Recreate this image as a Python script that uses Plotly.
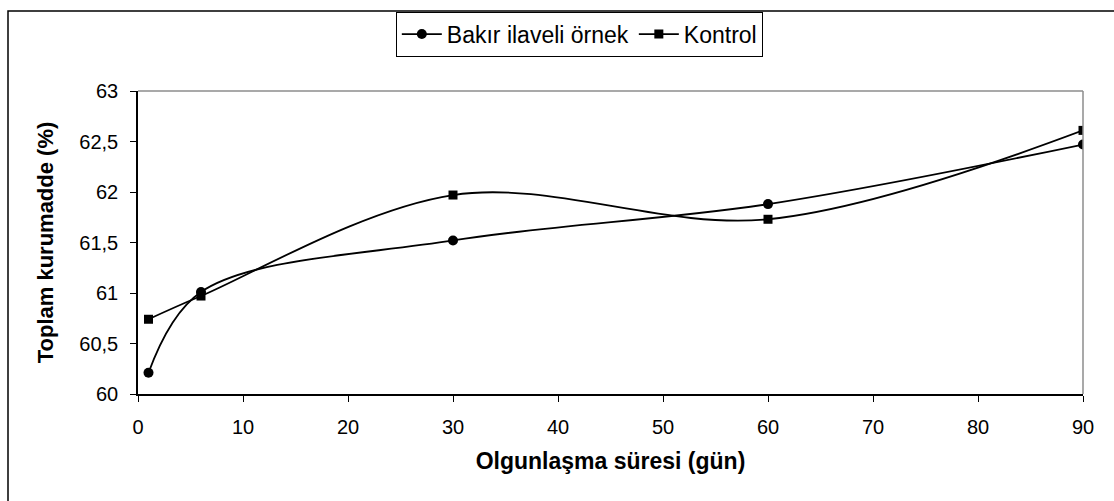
import plotly.graph_objects as go

days = [1, 6, 30, 60, 90]
bakir = [60.21, 61.01, 61.52, 61.88, 62.47]
kontrol = [60.74, 60.97, 61.97, 61.73, 62.61]

x_ticks = [0, 10, 20, 30, 40, 50, 60, 70, 80, 90]
y_ticks = [60, 60.5, 61, 61.5, 62, 62.5, 63]
y_tick_labels = ["60", "60,5", "61", "61,5", "62", "62,5", "63"]

FONT = "Liberation Sans, Arial, sans-serif"

fig = go.Figure()
fig.add_trace(go.Scatter(
    x=days, y=bakir, name="Bakır ilaveli örnek", mode="lines+markers",
    line=dict(color="black", width=1.8, shape="spline", smoothing=1.0),
    marker=dict(symbol="circle", size=10, color="black"),
))
fig.add_trace(go.Scatter(
    x=days, y=kontrol, name="Kontrol", mode="lines+markers",
    line=dict(color="black", width=1.8, shape="spline", smoothing=1.0),
    marker=dict(symbol="square", size=9, color="black"),
))

fig.update_layout(
    width=1114, height=501,
    margin=dict(l=138, r=31, t=87, b=107),
    paper_bgcolor="white", plot_bgcolor="white",
    font=dict(family=FONT, size=20, color="black"),
    showlegend=True,
    legend=dict(
        orientation="h", x=0.467, xanchor="center", y=1.262, yanchor="top",
        bordercolor="black", borderwidth=1, bgcolor="white",
        font=dict(family=FONT, size=23, color="black"),
        itemwidth=40, tracegroupgap=0,
    ),
    xaxis=dict(
        range=[0, 90], tickvals=x_ticks, ticktext=[str(v) for v in x_ticks],
        showgrid=False, zeroline=False, showline=True, linecolor="black", linewidth=1.5,
        ticks="outside", ticklen=6, tickcolor="black", tickwidth=1,
        ticklabelstandoff=8,
        tickfont=dict(family=FONT, size=20, color="black"),
        title=dict(text="<b>Olgunlaşma süresi (gün)</b>", font=dict(family=FONT, size=23), standoff=16),
    ),
    yaxis=dict(
        range=[60, 63], tickvals=y_ticks, ticktext=y_tick_labels,
        showgrid=False, zeroline=False, showline=True, linecolor="black", linewidth=1.5,
        ticks="outside", ticklen=6, tickcolor="black", tickwidth=1,
        ticklabelstandoff=8,
        tickfont=dict(family=FONT, size=20, color="black"),
        title=dict(text="<b>Toplam kurumadde (%)</b>", font=dict(family=FONT, size=22), standoff=20),
    ),
)

# grey plot-area border (top and right)
fig.add_shape(type="line", xref="paper", yref="paper", x0=0, x1=1, y0=1, y1=1,
              line=dict(color="#8c8c8c", width=1.5))
fig.add_shape(type="line", xref="paper", yref="paper", x0=1, x1=1, y0=0, y1=1,
              line=dict(color="#8c8c8c", width=1.5))
# outer chart border
fig.add_shape(type="rect", xref="paper", yref="paper",
              x0=(8 - 138) / 945, x1=1.2, y0=-0.5, y1=(394 - 6) / 307,
              line=dict(color="black", width=1.5), fillcolor="rgba(0,0,0,0)")

fig.write_html("out.html")
